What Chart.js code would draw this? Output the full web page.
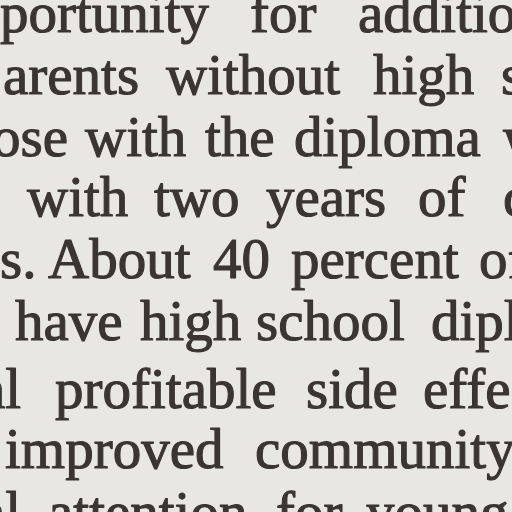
<!DOCTYPE html>
<html>
<head>
<meta charset="utf-8">
<title>Scanned page</title>
<script src="https://cdn.jsdelivr.net/npm/chart.js@4"></script>
<style>
  html, body { margin: 0; padding: 0; background: #e9e7e3; overflow: hidden; }
  #page { display: block; width: 512px; height: 512px; }
</style>
</head>
<body>
<canvas id="page" width="512" height="512"></canvas>
<script>
// baseline of each printed line (page units, top = 0)
const lineBaselines = [32, 94, 156, 216, 278, 340, 408, 468, 531];

// words per line: [hidden part cut off by the left edge, visible text, x where the visible text starts]
const lineWords = [
  [["op", "portunity", 0], ["", "for", 250], ["", "additional", 358]],
  [["", "arents", 3], ["", "without", 166], ["", "high", 373], ["", "school", 501]],
  [["th", "ose", -8], ["", "with", 85], ["", "the", 205], ["", "diploma", 294], ["", "were", 503]],
  [["", "with", 27], ["", "two", 154], ["", "years", 266], ["", "of", 418], ["", "college", 503]],
  [["graduate", "s.", 0], ["", "About", 48], ["", "40", 213], ["", "percent", 291], ["", "of", 479]],
  [["", "have", 15], ["", "high", 140], ["", "school", 256], ["", "diplomas", 431]],
  [["addition", "al", -20], ["", "profitable", 55], ["", "side", 306], ["", "effects", 423]],
  [["", "improved", 5], ["", "community", 255]],
  [["speci", "al", -20], ["", "attention", 48], ["", "for", 276], ["", "young", 366]]
];

const textPlugin = {
  id: 'pageText',
  afterDraw(chart) {
    const ctx = chart.ctx;
    const xs = chart.scales.x;
    const ys = chart.scales.y;
    ctx.save();
    ctx.font = '57px "Liberation Serif", "Times New Roman", serif';
    ctx.fillStyle = '#3a3533';
    ctx.strokeStyle = '#3a3533';
    ctx.lineWidth = 1.1;
    ctx.lineJoin = 'round';
    ctx.textBaseline = 'alphabetic';
    ctx.textAlign = 'left';
    lineWords.forEach((words, i) => {
      const py = ys.getPixelForValue(lineBaselines[i]);
      words.forEach(([pre, txt, x]) => {
        const px = xs.getPixelForValue(x) - ctx.measureText(pre).width;
        ctx.fillText(pre + txt, px, py);
        ctx.strokeText(pre + txt, px, py);
      });
    });
    ctx.restore();
  }
};

function draw() {
  new Chart(document.getElementById('page'), {
    type: 'scatter',
    data: { datasets: [{ data: [] }] },
    options: {
      responsive: false,
      animation: false,
      layout: { padding: 0 },
      plugins: { legend: { display: false }, tooltip: { enabled: false } },
      scales: {
        x: { type: 'linear', min: 0, max: 512, display: false },
        y: { type: 'linear', min: 0, max: 512, reverse: true, display: false }
      }
    },
    plugins: [textPlugin]
  });
}

if (document.fonts && document.fonts.load) {
  document.fonts.load('57px "Liberation Serif"').then(draw, draw);
} else {
  draw();
}
</script>
</body>
</html>
